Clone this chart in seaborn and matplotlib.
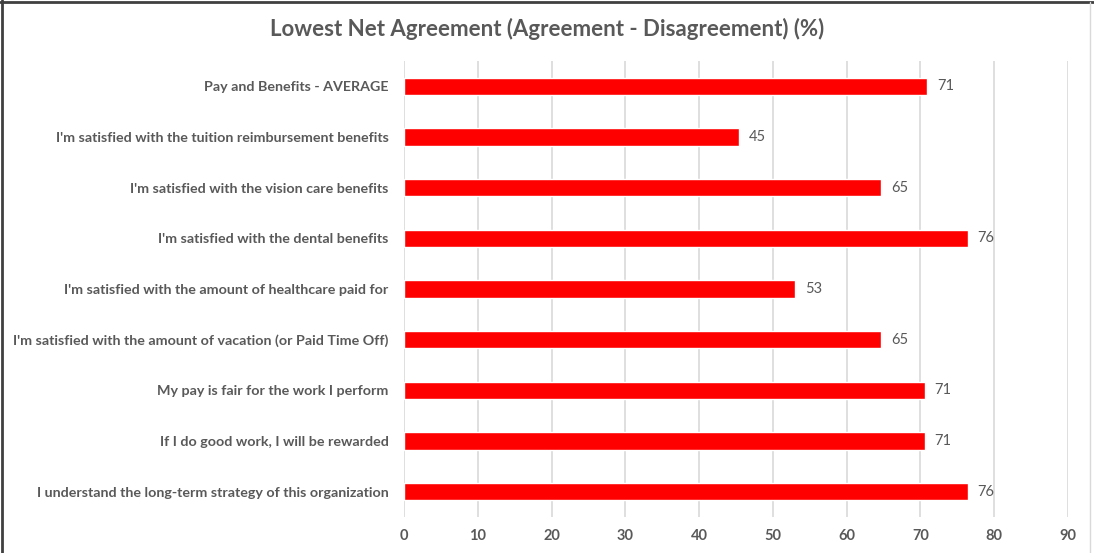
import matplotlib
matplotlib.use("Agg")
import matplotlib.pyplot as plt
from matplotlib.lines import Line2D
import seaborn as sns
import pandas as pd

statements = [
    "Pay and Benefits - AVERAGE",
    "I'm satisfied with the tuition reimbursement benefits",
    "I'm satisfied with the vision care benefits",
    "I'm satisfied with the dental benefits",
    "I'm satisfied with the amount of healthcare paid for",
    "I'm satisfied with the amount of vacation (or Paid Time Off)",
    "My pay is fair for the work I perform",
    "If I do good work, I will be rewarded",
    "I understand the long-term strategy of this organization",
]
net_agreement = [70.9, 45.4, 64.7, 76.4, 53.0, 64.7, 70.6, 70.6, 76.4]
x_ticks = [0, 10, 20, 30, 40, 50, 60, 70, 80, 90]

title = "Lowest Net Agreement (Agreement - Disagreement) (%)"
grey_text = "#595959"

sns.set_theme(style="white")
plt.rcParams["font.family"] = ["Lato", "DejaVu Sans"]

df = pd.DataFrame({"statement": statements, "net": net_agreement})

W, H, DPI = 1094, 553, 100
fig = plt.figure(figsize=(W / DPI, H / DPI), dpi=DPI)
ax = fig.add_axes([404 / W, 1 - 517 / H, (1068 - 404) / W, (517 - 61) / H])

sns.barplot(data=df, y="statement", x="net", orient="h", color="#FF0000",
            width=0.34, saturation=1, ax=ax, zorder=3)

ax.set_xlim(0, 90)
ax.set_xticks(x_ticks)
ax.set_xticklabels([str(t) for t in x_ticks], fontsize=10.5, fontweight="bold",
                   color=grey_text)
ax.tick_params(axis="x", length=0, pad=9)
ax.tick_params(axis="y", length=0, pad=11)
for lbl in ax.get_yticklabels():
    lbl.set_fontsize(10.3)
    lbl.set_fontweight("bold")
    lbl.set_color(grey_text)

ax.set_xlabel("")
ax.set_ylabel("")
ax.grid(axis="x", color="#d9d9d9", linewidth=1.2, zorder=0)
ax.grid(axis="y", visible=False)
for side in ax.spines.values():
    side.set_visible(False)

ax.bar_label(ax.containers[0], fmt="{:.0f}", padding=7, fontsize=10.5,
             color=grey_text)

fig.text(0.5, 1 - 29 / H, title, ha="center", va="center", fontsize=16,
         fontweight="bold", color=grey_text)

# frame around the chart
fig.add_artist(Line2D([0, 1], [1 - 2 / H, 1 - 2 / H], transform=fig.transFigure,
                      color="#404040", linewidth=2))
fig.add_artist(Line2D([2 / W, 2 / W], [0, 1], transform=fig.transFigure,
                      color="#404040", linewidth=2))
fig.add_artist(Line2D([1090 / W, 1090 / W], [0, 1 - 2 / H], transform=fig.transFigure,
                      color="#d9d9d9", linewidth=1))

fig.savefig("out.png", dpi=DPI)
